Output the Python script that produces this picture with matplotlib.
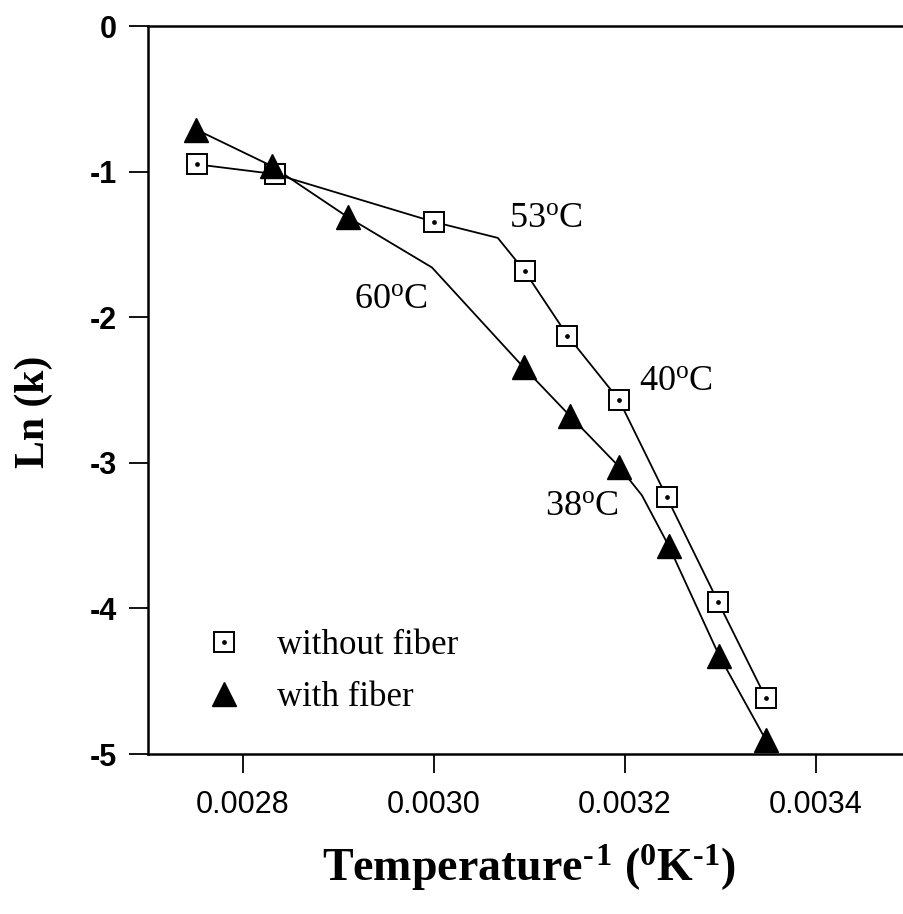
import matplotlib
matplotlib.use('Agg')
import matplotlib.pyplot as plt
from matplotlib.lines import Line2D

plt.rcParams['axes.unicode_minus'] = False
plt.rcParams['mathtext.fontset'] = 'custom'
plt.rcParams['mathtext.rm'] = 'Liberation Serif'
plt.rcParams['mathtext.bf'] = 'Liberation Serif:bold'
plt.rcParams['mathtext.it'] = 'Liberation Serif:italic'

# 1/T (1/K) for each measurement
inv_temp_without = [0.002752, 0.002834, 0.003000, 0.003095, 0.003140,
                    0.003194, 0.003244, 0.003298, 0.003348]
lnk_without = [-0.950, -1.017, -1.345, -1.682, -2.126,
               -2.568, -3.235, -3.957, -4.617]

inv_temp_with = [0.002751, 0.002830, 0.002910, 0.003094, 0.003143,
                 0.003194, 0.003246, 0.003299, 0.003348]
lnk_with = [-0.711, -0.961, -1.313, -2.344, -2.680,
            -3.026, -3.569, -4.325, -4.905]

# drawn trend lines (with the break points)
line_without_x = [0.002752, 0.002834, 0.003000, 0.003067, 0.003095, 0.003140,
                  0.003194, 0.003244, 0.003298, 0.003348]
line_without_y = [-0.950, -1.017, -1.345, -1.455, -1.682, -2.126,
                  -2.568, -3.235, -3.957, -4.617]
line_with_x = [0.002751, 0.002830, 0.002910, 0.002998, 0.003094, 0.003143,
               0.003194, 0.003218, 0.003246, 0.003299, 0.003348]
line_with_y = [-0.711, -0.961, -1.313, -1.658, -2.344, -2.680,
               -3.026, -3.223, -3.569, -4.325, -4.905]

# break temperature labels
notes = ['53$^{\\mathrm{o}}$C', '60$^{\\mathrm{o}}$C', '40$^{\\mathrm{o}}$C', '38$^{\\mathrm{o}}$C']
notes_x = [0.003117, 0.002955, 0.003254, 0.003155]
notes_y = [-1.32, -1.88, -2.44, -3.30]

x_ticks = [0.0028, 0.0030, 0.0032, 0.0034]
y_ticks = [0, -1, -2, -3, -4, -5]


def main():
    fig = plt.figure(figsize=(9.04, 9.14), dpi=100)
    ax = fig.add_axes([0.1632, 0.175, 0.8446, 0.7965])

    ax.plot(line_without_x, line_without_y, color='black', lw=1.3, zorder=2)
    ax.plot(line_with_x, line_with_y, color='black', lw=1.3, zorder=2)

    ax.plot(inv_temp_without, lnk_without, ls='none', marker='s', ms=15,
            mfc='white', mec='black', mew=1.4, zorder=3)
    ax.plot(inv_temp_without, lnk_without, ls='none', marker='o', ms=2.4,
            color='black', zorder=4)
    ax.plot(inv_temp_with, lnk_with, ls='none', marker='^', ms=17,
            color='black', zorder=3)

    for t, x, y in zip(notes, notes_x, notes_y):
        ax.text(x, y, t, ha='center', va='center', fontsize=26,
                family='Liberation Serif')

    ax.set_xlim(0.0027, 0.0035)
    ax.set_ylim(-5, 0)
    ax.set_xticks(x_ticks)
    ax.set_xticklabels(['%.4f' % v for v in x_ticks],
                       family='Liberation Sans', fontsize=22)
    ax.set_yticks(y_ticks)
    ax.set_yticklabels([str(v) for v in y_ticks],
                       family='Liberation Sans', fontsize=22, weight='bold')
    ax.tick_params(axis='both', direction='out', length=14, width=1.3)
    ax.tick_params(axis='x', pad=12)
    ax.tick_params(axis='y', pad=8)
    for s in ax.spines.values():
        s.set_linewidth(1.8)

    ax.set_xlabel('Temperature$^{\\mathbf{\u2010\u200a1}}$ ($^{\\mathbf{0}}$K$^{\\mathbf{\u20101}}$)',
                  family='Liberation Serif', weight='bold', fontsize=33)
    ax.xaxis.set_label_coords(0.5, -0.122)
    ax.set_ylabel('Ln (k)', family='Liberation Serif', weight='bold',
                  fontsize=30)
    ax.yaxis.set_label_coords(-0.124, 0.47)

    sq = Line2D([], [], ls='none', marker='s', ms=15, mfc='white',
                mec='black', mew=1.4)
    dot = Line2D([], [], ls='none', marker='o', ms=2.4, color='black')
    tri = Line2D([], [], ls='none', marker='^', ms=17, color='black')
    ax.legend([(sq, dot), tri], ['without fiber', 'with fiber'],
              loc='upper left', bbox_to_anchor=(0.2070, 0.331),
              bbox_transform=fig.transFigure, frameon=False, borderpad=0,
              handlelength=1.1, handletextpad=1.0, labelspacing=0.55,
              prop={'family': 'Liberation Serif', 'size': 25})

    fig.savefig('out.png', dpi=100)


if __name__ == "__main__":
    main()
